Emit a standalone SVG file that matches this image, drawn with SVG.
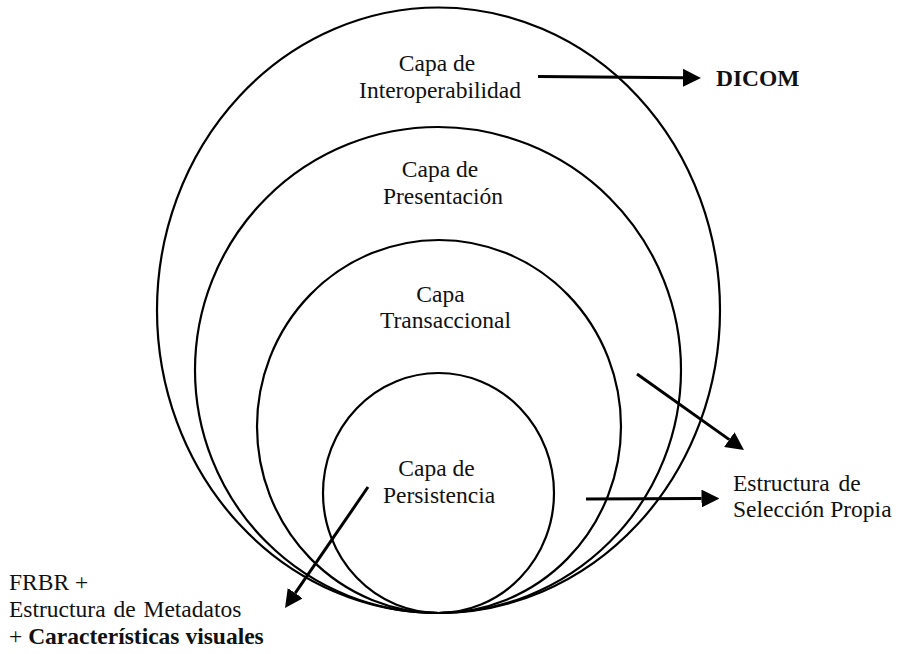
<svg xmlns="http://www.w3.org/2000/svg" width="901" height="654" viewBox="0 0 901 654">
  <style>
    .layer { fill: none; stroke: #000; stroke-width: 2.2; }
    .lbl { font-family: "Liberation Serif", "Times New Roman", serif; font-size: 23.5px; fill: #111; }
    .mid { text-anchor: middle; }
    .b { font-weight: bold; }
    .conn { fill: none; stroke: #000; stroke-width: 3; }
  </style>
  <defs>
    <marker id="head" viewBox="0 -9 18 18" refX="0" refY="0" markerWidth="18" markerHeight="18" markerUnits="userSpaceOnUse" orient="auto">
      <path d="M0,-9 L18,0 L0,9 z" fill="#000"/>
    </marker>
  </defs>

  <rect width="901" height="654" fill="#fff"/>

  <!-- nested layers, all tangent at the bottom -->
  <g id="capa-interoperabilidad">
    <ellipse class="layer" cx="438.5" cy="310.25" rx="281.5" ry="302.75"/>
    <text class="lbl mid"><tspan x="437" y="71">Capa de</tspan><tspan x="440" y="97.5">Interoperabilidad</tspan></text>
  </g>
  <g id="capa-presentacion">
    <ellipse class="layer" cx="438" cy="370" rx="243" ry="243"/>
    <text class="lbl mid"><tspan x="440" y="177">Capa de</tspan><tspan x="443" y="204">Presentación</tspan></text>
  </g>
  <g id="capa-transaccional">
    <ellipse class="layer" cx="439" cy="426.5" rx="182" ry="186.5"/>
    <text class="lbl mid"><tspan x="440.5" y="301.5">Capa</tspan><tspan x="445.5" y="328">Transaccional</tspan></text>
  </g>
  <g id="capa-persistencia">
    <ellipse class="layer" cx="438.5" cy="493" rx="115.5" ry="120"/>
    <text class="lbl mid"><tspan x="436.5" y="476">Capa de</tspan><tspan x="439" y="503">Persistencia</tspan></text>
  </g>

  <!-- external targets -->
  <g id="dicom">
    <text class="lbl b" x="716" y="86">DICOM</text>
  </g>
  <g id="estructura-seleccion">
    <text class="lbl"><tspan x="733" y="490.7" word-spacing="3">Estructura de</tspan><tspan x="733" y="516.7">Selección Propia</tspan></text>
  </g>
  <g id="frbr-metadatos">
    <text class="lbl"><tspan x="9" y="590">FRBR +</tspan><tspan x="9" y="616.7" word-spacing="2">Estructura de Metadatos</tspan><tspan x="9" y="644">+ <tspan class="b">Características visuales</tspan></tspan></text>
  </g>

  <!-- connectors -->
  <g id="connectors">
    <line class="conn" x1="538" y1="76.5" x2="683" y2="77.8" marker-end="url(#head)"/>
    <line class="conn" x1="637" y1="374" x2="729.3" y2="439.6" marker-end="url(#head)"/>
    <line class="conn" x1="586" y1="499" x2="701.5" y2="498.6" marker-end="url(#head)"/>
    <line class="conn" x1="368" y1="487" x2="295.2" y2="593.2" marker-end="url(#head)"/>
  </g>
</svg>
